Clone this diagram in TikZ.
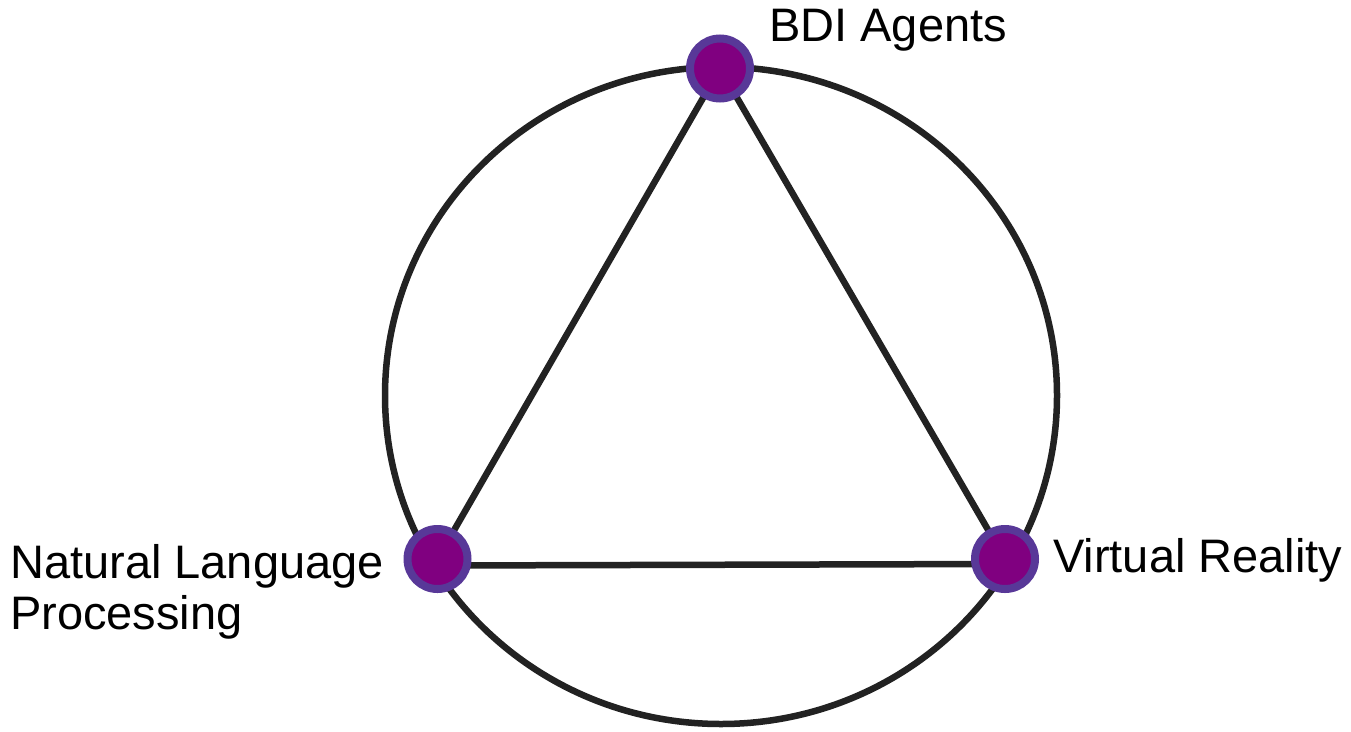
\documentclass[tikz,border=0pt]{standalone}
\usepackage{fontspec}
\setmainfont{Liberation Sans}
\definecolor{ringcol}{RGB}{34,34,34}
\definecolor{dotfill}{RGB}{128,0,128}
\definecolor{dotedge}{RGB}{88,56,152}
\tikzset{
  dot/.style={circle, draw=dotedge, fill=dotfill, line width=8pt, minimum size=60pt, inner sep=0pt},
  edge/.style={draw=ringcol, line width=6.5pt},
  lbl/.style={anchor=base west, inner sep=0pt, font=\fontsize{47}{51}\selectfont, align=left}
}
\begin{document}
\begin{tikzpicture}[x=1pt, y=-1pt]
\useasboundingbox (0,0) rectangle (1351,731);
\fill[white] (0,0) rectangle (1351,731);
\draw[ringcol, line width=6.5pt] (721,395.5) ellipse [x radius=336, y radius=328.5];
\coordinate (T) at (720,68.5);
\coordinate (L) at (437.5,559);
\coordinate (R) at (1005,559);
\draw[edge] (T) -- (L);
\draw[edge] (T) -- (R);
\draw[edge] ([yshift=-6.5pt]L) -- ([yshift=-5pt]R);
\node[dot] (nT) at (T) {};
\node[dot] (nL) at (L) {};
\node[dot] (nR) at (R) {};
\node[lbl] (tT) at (769,41) {BDI Agents};
\node[lbl] (tL) at (10,629) {Natural Language\\Processing};
\node[lbl] (tR) at (1053,572) {Virtual Reality};
\end{tikzpicture}
\end{document}
